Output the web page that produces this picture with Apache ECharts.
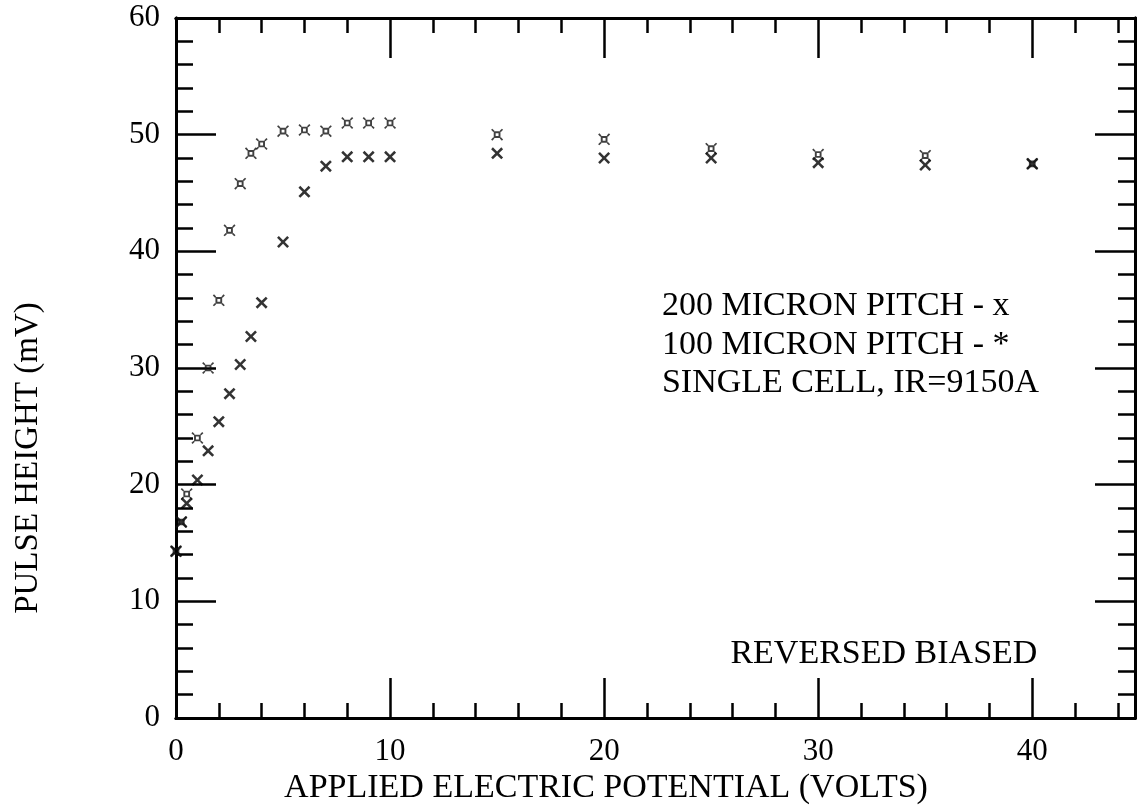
<!DOCTYPE html>
<html><head><meta charset="utf-8">
<script src="https://cdn.jsdelivr.net/npm/echarts@6/dist/echarts.min.js"></script>
<style>html,body{margin:0;padding:0;background:#fff}#c{width:1138px;height:812px}</style>
</head><body><div id="c"></div>
<script>
// ---- data ----
const voltage  = [0, 0.25, 0.5, 1, 1.5, 2, 2.5, 3, 3.5, 4, 5, 6, 7, 8, 9, 10, 15, 20, 25, 30, 35, 40];
const pitch100 = [14.3, 16.8, 19.2, 24.0, 30.0, 35.8, 41.8, 45.8, 48.4, 49.2, 50.3, 50.4, 50.3, 51.0, 51.0, 51.0, 50.0, 49.6, 48.8, 48.3, 48.2, 47.5];
const pitch200 = [14.3, 16.8, 18.4, 20.4, 22.9, 25.4, 27.8, 30.3, 32.7, 35.6, 40.8, 45.1, 47.3, 48.1, 48.1, 48.1, 48.4, 48.0, 48.0, 47.6, 47.4, 47.5];
const xTickLabels = [0, 10, 20, 30, 40];
const yTickLabels = [0, 10, 20, 30, 40, 50, 60];
const noteLines = ['200 MICRON PITCH - x', '100 MICRON PITCH - *', 'SINGLE CELL, IR=9150A'];
const noteAnchor = [22.7, 35.3];
const noteStep = 3.3;
const biasText = 'REVERSED BIASED';
const biasAnchor = [25.9, 5.5];
const xTitle = 'APPLIED ELECTRIC POTENTIAL (VOLTS)';
const yTitle = 'PULSE HEIGHT (mV)';

// ---- styling ----
const FONT = '"Liberation Serif", "Times New Roman", serif';
const INK = '#000';
const X_SYM = 'path://M0,1.5L1.5,0L5,3.5L8.5,0L10,1.5L6.5,5L10,8.5L8.5,10L5,6.5L1.5,10L0,8.5L3.5,5Z';
const STAR_SYM = 'path://M2.2,2.2H7.8V7.8H2.2ZM3.8,3.8V6.2H6.2V3.8Z' +
  'M0,1L1,0L2.8,1.8L1.8,2.8Z' +
  'M10,1L8.2,2.8L7.2,1.8L9,0Z' +
  'M0,9L1.8,7.2L2.8,8.2L1,10Z' +
  'M10,9L9,10L7.2,8.2L8.2,7.2Z';

const XMAX = 44.8, YMAX = 60;
function axisBase(extra) {
  return Object.assign({
    type: 'value', splitLine: {show: false},
    axisLine: {show: true, onZero: false, lineStyle: {color: INK, width: 3}},
    axisTick: {show: true, inside: true, length: 40, lineStyle: {color: INK, width: 2.5}},
    axisLabel: {show: false}
  }, extra);
}
const minorTick = len => ({show: true, inside: true, length: len, lineStyle: {color: INK, width: 2.5}});
const xAxes = [
  axisBase({position: 'bottom', min: 0, max: XMAX, interval: 10,
    axisLabel: {show: true, margin: 18, fontFamily: FONT, fontSize: 31, color: INK,
      formatter: v => xTickLabels.indexOf(v) >= 0 ? String(v) : ''}}),
  axisBase({position: 'bottom', min: 0, max: XMAX, interval: 2, axisTick: minorTick(15)}),
  axisBase({position: 'top', min: 0, max: XMAX, interval: 10}),
  axisBase({position: 'top', min: 0, max: XMAX, interval: 2, axisTick: minorTick(15)})
];
const yAxes = [
  axisBase({position: 'left', min: 0, max: YMAX, interval: 10,
    axisLabel: {show: true, margin: 16, fontFamily: FONT, fontSize: 31, color: INK,
      formatter: v => yTickLabels.indexOf(v) >= 0 ? String(v) : ''}}),
  axisBase({position: 'left', min: 0, max: YMAX, interval: 2, axisTick: minorTick(17)}),
  axisBase({position: 'right', min: 0, max: YMAX, interval: 10}),
  axisBase({position: 'right', min: 0, max: YMAX, interval: 2, axisTick: minorTick(17)})
];

const chart = echarts.init(document.getElementById('c'), null, {renderer: 'canvas'});
chart.setOption({
  animation: false,
  backgroundColor: '#fff',
  grid: {left: 176, right: 3, top: 18, bottom: 94, containLabel: false},
  xAxis: xAxes,
  yAxis: yAxes,
  series: [
    {name: '200 MICRON PITCH', type: 'scatter', xAxisIndex: 0, yAxisIndex: 0,
     symbol: X_SYM, symbolSize: 12, itemStyle: {color: INK},
     data: voltage.map((v, i) => [v, pitch200[i]])},
    {name: '100 MICRON PITCH', type: 'scatter', xAxisIndex: 0, yAxisIndex: 0,
     symbol: STAR_SYM, symbolSize: 12, itemStyle: {color: '#111'},
     data: voltage.map((v, i) => [v, pitch100[i]])}
  ]
});

const px = p => chart.convertToPixel({xAxisIndex: 0, yAxisIndex: 0}, p);
const graphics = [];
noteLines.forEach((t, i) => {
  const p = px([noteAnchor[0], noteAnchor[1] - i * noteStep]);
  graphics.push({type: 'text', x: p[0], y: p[1], style: {text: t, font: '34px ' + FONT, fill: INK, align: 'left', verticalAlign: 'middle'}});
});
const bp = px(biasAnchor);
graphics.push({type: 'text', x: bp[0], y: bp[1], style: {text: biasText, font: '34px ' + FONT, fill: INK, align: 'left', verticalAlign: 'middle'}});
graphics.push({type: 'text', x: 606, y: 788, style: {text: xTitle, font: '34px ' + FONT, fill: INK, align: 'center', verticalAlign: 'middle'}});
graphics.push({type: 'text', x: 28, y: 458, rotation: Math.PI / 2, style: {text: yTitle, font: '33px ' + FONT, fill: INK, align: 'center', verticalAlign: 'middle'}});
chart.setOption({graphic: graphics});
</script></body></html>
